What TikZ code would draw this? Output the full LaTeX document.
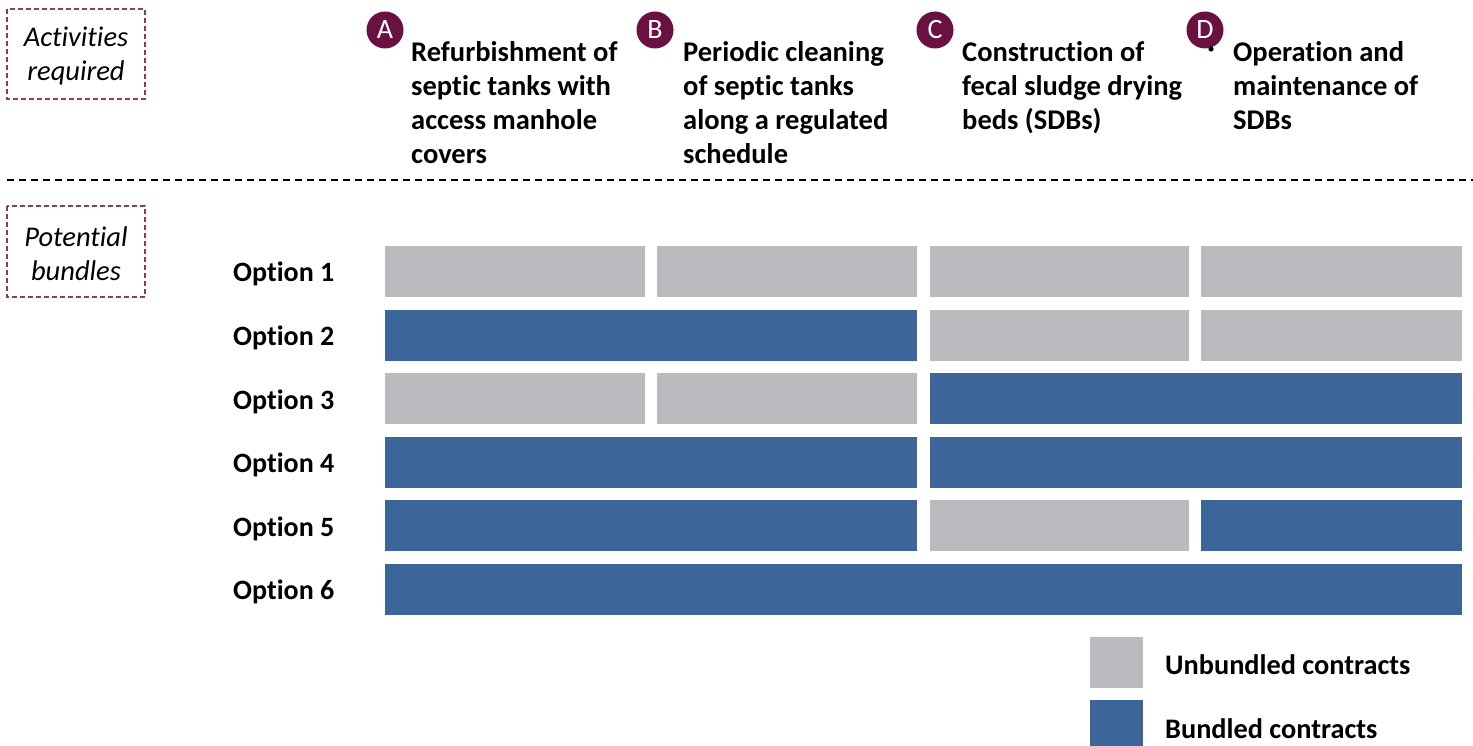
\documentclass[tikz,border=0pt]{standalone}
\usepackage{fontspec}
\setmainfont[Ligatures={NoCommon}]{Carlito}
\definecolor{maroon}{HTML}{6A1141}
\definecolor{boxline}{HTML}{8A3B66}
\definecolor{ungray}{HTML}{BBBBBF}
\definecolor{bblue}{HTML}{3C6699}
\tikzset{
  tagbox/.style={draw=boxline, dashed, line width=1.2pt, dash pattern=on 5pt off 3pt},
  tagtext/.style={font=\fontsize{28.5}{34}\selectfont\itshape, align=center, inner sep=0},
  letter/.style={circle, fill=maroon, text=white, minimum size=37pt, inner sep=0, font=\fontsize{28}{28}\selectfont},
  head/.style={font=\fontsize{28.5}{34}\selectfont\bfseries, align=left, anchor=north west, inner sep=0},
  optlabel/.style={font=\fontsize{28}{28}\selectfont\bfseries, anchor=west, inner sep=0},
  unb/.style={fill=ungray, draw=none},
  bun/.style={fill=bblue, draw=none},
  legtext/.style={font=\fontsize{28.3}{28}\selectfont\bfseries, anchor=west, inner sep=0},
}
\begin{document}
\begin{tikzpicture}[x=1pt,y=-1pt]
\useasboundingbox (0,0) rectangle (1473,746);
% tag boxes
\draw[tagbox] (7,9) rectangle (145,99);
\node[tagtext] (act) at (76,56) {Activities\\required};
\draw[tagbox] (7,206) rectangle (145,297);
\node[tagtext] (pot) at (76,254) {Potential\\bundles};
% separator
\draw[dashed, line width=1.2pt, dash pattern=on 7pt off 5pt] (7,180) -- (1473,180);
% letters
\node[letter] (A) at (385,30) {A};
\node[letter] (B) at (655,30) {B};
\node[letter] (C) at (935,30) {C};
\node[letter] (D) at (1205,30) {D};
\fill (1211,49) circle (2.6pt);
% headings
\node[head] (hA) at (411,41) {Refurbishment of\\septic tanks with\\access manhole\\covers};
\node[head] (hB) at (683,41) {Periodic cleaning\\of septic tanks\\along a regulated\\schedule};
\node[head] (hC) at (962,41) {Construction of\\fecal sludge drying\\beds (SDBs)};
\node[head] (hD) at (1233,41) {Operation and\\maintenance of\\SDBs};
% option labels
\node[optlabel] (o1) at (233,274) {Option 1};
\node[optlabel] (o2) at (233,338) {Option 2};
\node[optlabel] (o3) at (233,402) {Option 3};
\node[optlabel] (o4) at (233,465) {Option 4};
\node[optlabel] (o5) at (233,529) {Option 5};
\node[optlabel] (o6) at (233,592) {Option 6};
% bars: columns A 385-645, B 657-917, C 930-1189, D 1201-1462
% row 1
\fill[unb] (385,246) rectangle (645,297);
\fill[unb] (657,246) rectangle (917,297);
\fill[unb] (930,246) rectangle (1189,297);
\fill[unb] (1201,246) rectangle (1462,297);
% row 2
\fill[bun] (385,310) rectangle (917,361);
\fill[unb] (930,310) rectangle (1189,361);
\fill[unb] (1201,310) rectangle (1462,361);
% row 3
\fill[unb] (385,373) rectangle (645,424);
\fill[unb] (657,373) rectangle (917,424);
\fill[bun] (930,373) rectangle (1462,424);
% row 4
\fill[bun] (385,437) rectangle (917,488);
\fill[bun] (930,437) rectangle (1462,488);
% row 5
\fill[bun] (385,500) rectangle (917,551);
\fill[unb] (930,500) rectangle (1189,551);
\fill[bun] (1201,500) rectangle (1462,551);
% row 6
\fill[bun] (385,564) rectangle (1462,615);
% legend
\fill[unb] (1090,637) rectangle (1143,688);
\node[legtext] (lu) at (1165,665) {Unbundled contracts};
\fill[bun] (1090,700) rectangle (1143,746);
\node[legtext] (lb) at (1165,729) {Bundled contracts};
\end{tikzpicture}
\end{document}
